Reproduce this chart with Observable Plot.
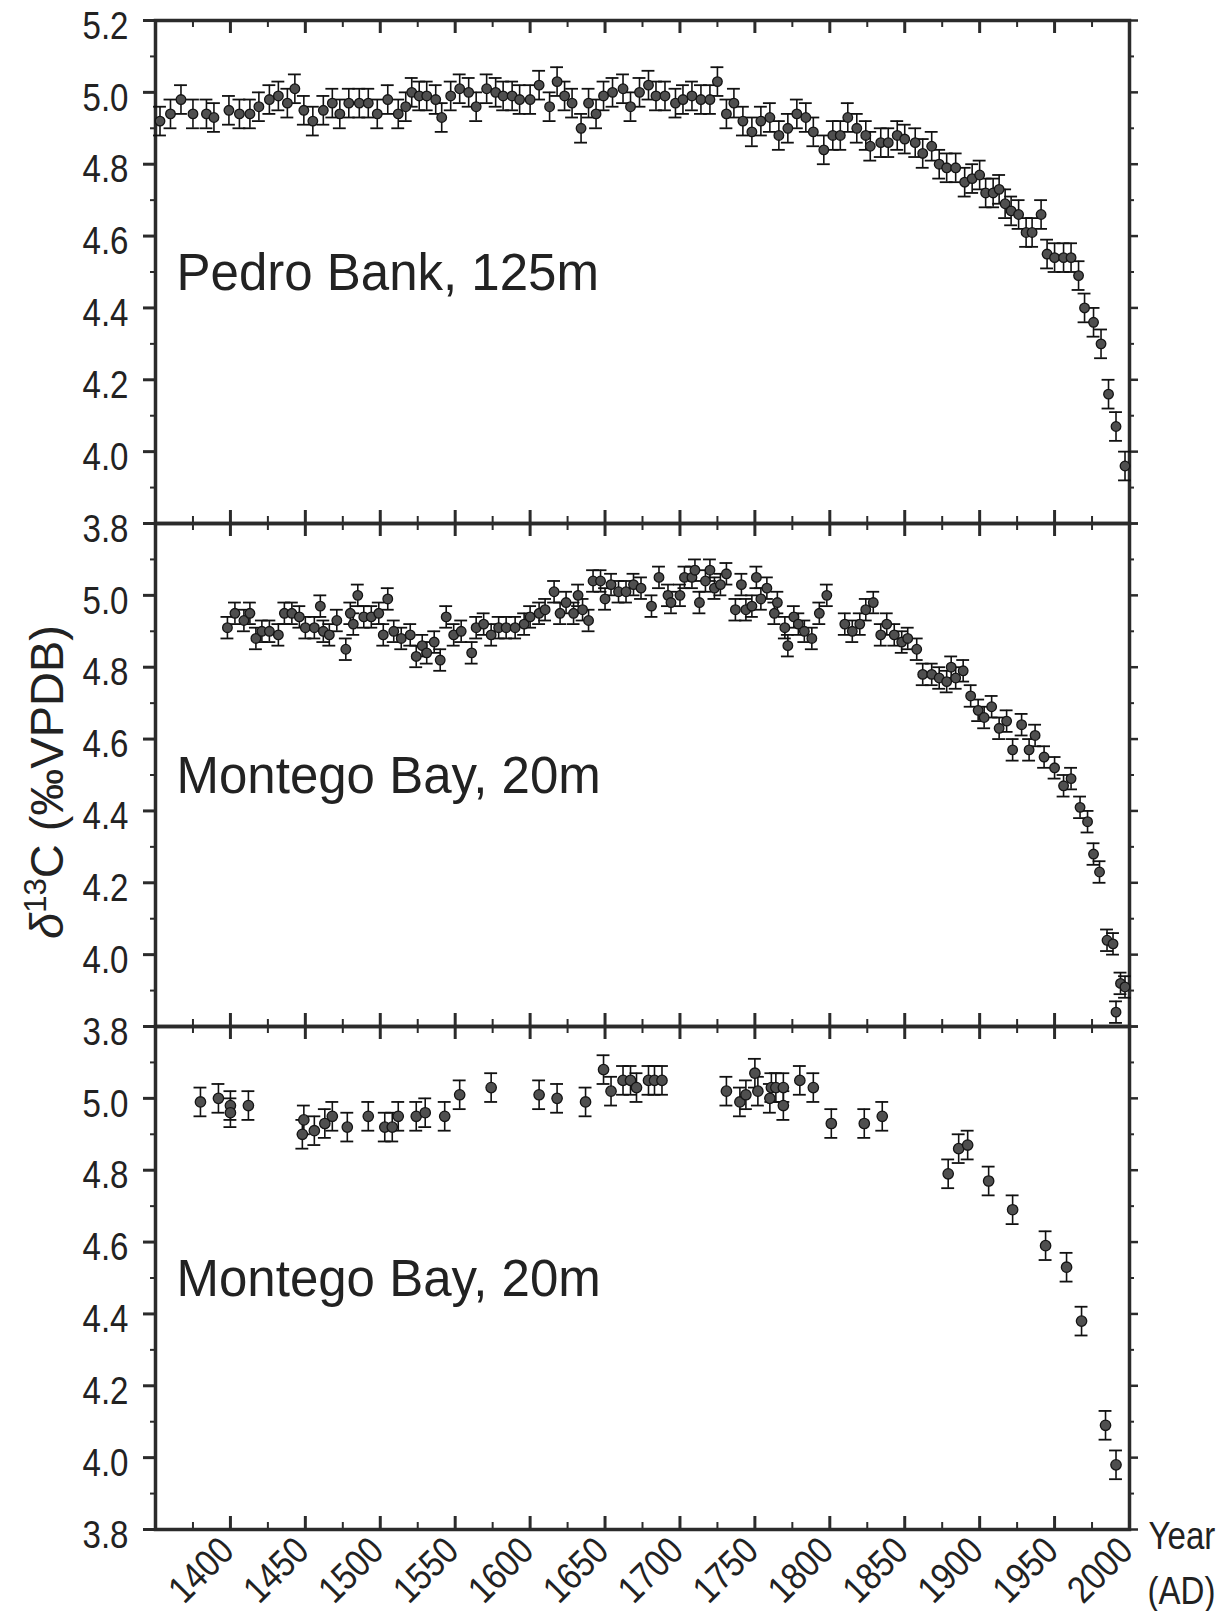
<!DOCTYPE html>
<html>
<head>
<meta charset="utf-8">
<script src="https://cdn.jsdelivr.net/npm/d3@7"></script>
<script src="https://cdn.jsdelivr.net/npm/@observablehq/plot@0.6"></script>
<style>
html, body { margin: 0; padding: 0; background: #fff; }
#chart { position: relative; width: 1227px; height: 1611px; background: #fff; overflow: hidden; }
#chart svg { position: absolute; left: 0; }
#ytitle { position: absolute; left: 46px; top: 782px; transform: translate(-50%, -50%) rotate(-90deg);
  font-family: "Liberation Sans", Arial, sans-serif; font-size: 47px; color: #222; white-space: nowrap; }
#ytitle sup { font-size: 0.66em; }
</style>
</head>
<body>
<div id="chart"><div id="ytitle"><i>δ</i><sup>13</sup>C (‰VPDB)</div></div>
<script>
// ---------- data ----------
const pedroYear = [1353,1360,1367,1375,1384,1389,1399,1406,1413,1419,1426,1432,1438,1443,1449,1455,1462,1468,1473,1479,
  1486,1492,1498,1505,1512,1517,1521,1526,1531,1537,1541,1547,1553,1559,1564,1571,1577,1582,1588,1593,
  1600,1606,1613,1618,1623,1628,1634,1639,1644,1649,1655,1662,1667,1673,1679,1684,1690,1697,1702,1708,
  1714,1720,1725,1731,1736,1742,1748,1754,1760,1766,1772,1778,1784,1789,1796,1802,1807,1812,1818,1824,
  1827,1834,1839,1845,1850,1857,1862,1868,1873,1878,1884,1890,1895,1900,1904,1909,1913,1917,1921,1926,
  1931,1935,1941,1945,1950,1956,1961,1966,1970,1976,1981,1986,1991,1997];
const pedroD13C = [4.92,4.94,4.98,4.94,4.94,4.93,4.95,4.94,4.94,4.96,4.98,4.99,4.97,5.01,4.95,4.92,4.95,4.97,4.94,4.97,
  4.97,4.97,4.94,4.98,4.94,4.96,5.00,4.99,4.99,4.98,4.93,4.99,5.01,5.00,4.96,5.01,5.00,4.99,4.99,4.98,
  4.98,5.02,4.96,5.03,4.99,4.97,4.90,4.97,4.94,4.99,5.00,5.01,4.96,5.00,5.02,4.99,4.99,4.97,4.98,4.99,
  4.98,4.98,5.03,4.94,4.97,4.92,4.89,4.92,4.93,4.88,4.90,4.94,4.93,4.89,4.84,4.88,4.88,4.93,4.90,4.88,
  4.85,4.86,4.86,4.88,4.87,4.86,4.83,4.85,4.80,4.79,4.79,4.75,4.76,4.77,4.72,4.72,4.73,4.69,4.67,4.66,
  4.61,4.61,4.66,4.55,4.54,4.54,4.54,4.49,4.40,4.36,4.30,4.16,4.07,3.96];

const montegoAYear = [1398,1403,1409,1413,1417,1421,1426,1432,1436,1441,1446,1450,1456,1460,1462,1466,1471,1477,1480,1482,
  1485,1489,1494,1499,1502,1505,1509,1514,1520,1524,1528,1531,1536,1540,1544,1549,1554,1561,1564,1569,
  1574,1579,1584,1590,1596,1600,1606,1610,1616,1620,1624,1629,1632,1635,1639,1642,1647,1650,1654,1659,
  1664,1669,1674,1681,1686,1692,1694,1700,1703,1708,1710,1713,1717,1720,1723,1727,1731,1737,1741,1744,
  1748,1751,1754,1758,1763,1765,1770,1772,1776,1779,1783,1788,1793,1798,1810,1815,1820,1824,1829,1834,
  1838,1843,1848,1852,1858,1862,1868,1873,1878,1881,1884,1889,1894,1899,1903,1908,1913,1918,1922,1928,
  1933,1937,1943,1950,1956,1961,1967,1972,1976,1980,1985,1989,1991,1994,1997];
const montegoAD13C = [4.91,4.95,4.93,4.95,4.88,4.90,4.90,4.89,4.95,4.95,4.94,4.91,4.91,4.97,4.90,4.89,4.93,4.85,4.95,4.92,
  5.00,4.94,4.94,4.95,4.89,4.99,4.90,4.88,4.89,4.83,4.86,4.84,4.87,4.82,4.94,4.89,4.90,4.84,4.91,4.92,
  4.89,4.91,4.91,4.91,4.92,4.94,4.95,4.96,5.01,4.95,4.98,4.95,5.00,4.96,4.93,5.04,5.04,4.99,5.03,5.01,
  5.01,5.03,5.02,4.97,5.05,5.00,4.98,5.00,5.05,5.05,5.07,4.98,5.04,5.07,5.02,5.03,5.06,4.96,5.03,4.96,
  4.97,5.05,4.99,5.02,4.95,4.98,4.91,4.86,4.94,4.92,4.90,4.88,4.95,5.00,4.92,4.90,4.92,4.96,4.98,4.89,
  4.92,4.89,4.87,4.88,4.85,4.78,4.78,4.77,4.76,4.80,4.77,4.79,4.72,4.68,4.66,4.69,4.63,4.65,4.57,4.64,
  4.57,4.61,4.55,4.52,4.47,4.49,4.41,4.37,4.28,4.23,4.04,4.03,3.84,3.92,3.91];

const montegoBYear = [1380,1392,1400,1400,1412,1449,1448,1456,1463,1468,1478,1492,1503,1508,1512,1524,1530,1543,1553,1574,
  1606,1618,1637,1649,1654,1662,1667,1671,1679,1683,1688,1731,1740,1744,1750,1752,1760,1761,1764,1769,
  1769,1780,1789,1801,1823,1835,1879,1886,1892,1906,1922,1944,1958,1968,1984,1991];
const montegoBD13C = [4.99,5.00,4.98,4.96,4.98,4.94,4.90,4.91,4.93,4.95,4.92,4.95,4.92,4.92,4.95,4.95,4.96,4.95,5.01,5.03,
  5.01,5.00,4.99,5.08,5.02,5.05,5.05,5.03,5.05,5.05,5.05,5.02,4.99,5.01,5.07,5.02,5.00,5.03,5.03,5.03,
  4.98,5.05,5.03,4.93,4.93,4.95,4.79,4.86,4.87,4.77,4.69,4.59,4.53,4.38,4.09,3.98];

const panelErrors = [0.04, 0.03, 0.04];
const panelLabels = ["Pedro Bank, 125m", "Montego Bay, 20m", "Montego Bay, 20m"];
const xMajor = [1400, 1450, 1500, 1550, 1600, 1650, 1700, 1750, 1800, 1850, 1900, 1950, 2000];
const xMinor = [1375, 1425, 1475, 1525, 1575, 1625, 1675, 1725, 1775, 1825, 1875, 1925, 1975];
const yMajor = [5.2, 5.0, 4.8, 4.6, 4.4, 4.2, 4.0, 3.8];
const yMinor = [5.1, 4.9, 4.7, 4.5, 4.3, 4.1, 3.9];
const xTitle = ["Year", "(AD)"];

// ---------- layout ----------
const W = 1227, ML = 155, MR = 98, FH = 503, FW = W - ML - MR;
const frameTops = [20, 523, 1026];
const dotR = [4.8, 4.8, 5.2];
const CAP = 4.3; // half cap width in years (~6.5 px)
const SX = 0.87; // horizontal condensing of tick-label glyphs
const face = "'Liberation Sans', Arial, Helvetica, sans-serif";
const INK = "#2b2b2b";
const TICKLBL = {fontSize: 38, fontFamily: face, fill: "#222", ariaDescription: "condensed"};

function condense(svg) {
  let texts = svg.querySelectorAll('g[aria-description="condensed"] text');
  if (!texts.length) texts = Array.from(svg.querySelectorAll("text")).filter(t => {
    const g = t.closest("g"); return g && g.getAttribute("font-size") === "38";
  });
  texts.forEach(t => {
    const tr = t.getAttribute("transform");
    if (tr) t.setAttribute("transform", tr + ` scale(${SX},1)`);
    else {
      const x = +t.getAttribute("x") || 0, y = +t.getAttribute("y") || 0;
      t.removeAttribute("x"); t.removeAttribute("y");
      t.setAttribute("transform", `translate(${x},${y}) scale(${SX},1)`);
    }
  });
}

function panel(i, years, values) {
  const data = years.map((x, k) => ({x, y: values[k]}));
  const err = panelErrors[i];
  const mt = 20, mb = i === 2 ? 85 : 20;
  const inner = xMajor.filter(d => d < 2000);
  const marks = [
    Plot.ruleX(inner, {x: d => d, insetBottom: FH - 13, stroke: INK, strokeWidth: 3}),
    Plot.ruleX(xMinor, {x: d => d, insetBottom: FH - 7, stroke: INK, strokeWidth: 2}),
    Plot.ruleX(inner, {x: d => d, insetTop: FH - 13, stroke: INK, strokeWidth: 3}),
    Plot.ruleX(xMinor, {x: d => d, insetTop: FH - 7, stroke: INK, strokeWidth: 2}),
    Plot.ruleY(yMajor, {y: d => d, insetLeft: -12, insetRight: FW, stroke: INK, strokeWidth: 3}),
    Plot.ruleY(yMinor, {y: d => d, insetLeft: -5, insetRight: FW, stroke: INK, strokeWidth: 2}),
    Plot.ruleY(yMajor, {y: d => d, insetLeft: FW, insetRight: -9, stroke: INK, strokeWidth: 2.5}),
    Plot.ruleY(yMinor, {y: d => d, insetLeft: FW, insetRight: -5, stroke: INK, strokeWidth: 2}),
    Plot.frame({stroke: INK, strokeWidth: 3.5}),
    Plot.text(i === 0 ? yMajor : yMajor.slice(1), {
      y: d => d, text: d => d.toFixed(1), frameAnchor: "left", textAnchor: "end",
      dx: -27, dy: 6, ...TICKLBL
    }),
    Plot.ruleX(data, {x: "x", y1: d => d.y - err, y2: d => d.y + err, stroke: "#111", strokeWidth: 1.6}),
    Plot.ruleY(data, {y: d => d.y + err, x1: d => d.x - CAP, x2: d => d.x + CAP, stroke: "#111", strokeWidth: 1.8}),
    Plot.ruleY(data, {y: d => d.y - err, x1: d => d.x - CAP, x2: d => d.x + CAP, stroke: "#111", strokeWidth: 1.8}),
    Plot.dot(data, {x: "x", y: "y", r: dotR[i], fill: "#4f4f4f", stroke: "#141414", strokeWidth: 1.3}),
    Plot.text([panelLabels[i]], {
      frameAnchor: "top-left", textAnchor: "start", lineAnchor: "bottom",
      dx: 21, dy: 269, fontSize: 51, fontFamily: face, fill: "#222"
    })
  ];
  if (i === 2) {
    marks.push(
      Plot.text(xMajor, {
        x: d => d, text: d => String(d), frameAnchor: "bottom", rotate: -45,
        textAnchor: "end", lineAnchor: "middle", dx: -3, dy: 15, ...TICKLBL
      }),
      Plot.text([xTitle[0]], {frameAnchor: "bottom-right", textAnchor: "start", lineAnchor: "bottom",
        dx: 19, dy: 19, ...TICKLBL}),
      Plot.text([xTitle[1]], {frameAnchor: "bottom-right", textAnchor: "start", lineAnchor: "bottom",
        dx: 18, dy: 74, ...TICKLBL})
    );
  }
  const svg = Plot.plot({
    width: W,
    height: mt + FH + mb,
    marginLeft: ML, marginRight: MR, marginTop: mt, marginBottom: mb,
    x: {domain: [1350, 2000], axis: null},
    y: {domain: [3.8, 5.2], axis: null},
    style: {background: "transparent", overflow: "visible"},
    marks
  });
  svg.style.background = "transparent";
  svg.style.overflow = "visible";
  svg.style.top = (frameTops[i] - mt) + "px";
  condense(svg);
  return svg;
}

const chart = document.getElementById("chart");
chart.appendChild(panel(0, pedroYear, pedroD13C));
chart.appendChild(panel(1, montegoAYear, montegoAD13C));
chart.appendChild(panel(2, montegoBYear, montegoBD13C));
</script>
</body>
</html>
